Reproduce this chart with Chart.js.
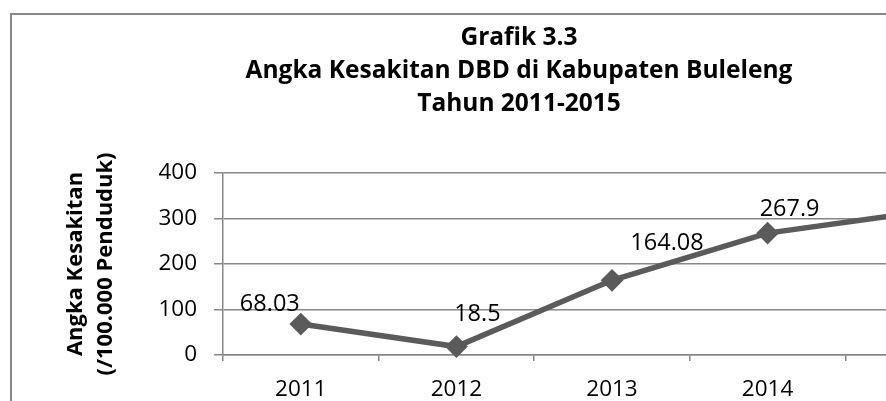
<!DOCTYPE html>
<html>
<head>
<meta charset="utf-8">
<script src="https://cdn.jsdelivr.net/npm/chart.js@4/dist/chart.umd.min.js"></script>
<style>
  html, body { margin: 0; padding: 0; background: #fff; overflow: hidden; }
  #frame {
    position: absolute;
    left: 10px;
    top: 13px;
    width: 1014px;
    height: 400px;
    border: 2px solid #888;
  }
  canvas { display: block; }
</style>
</head>
<body>
<div id="frame"><canvas id="chart" width="1014" height="400"></canvas></div>
<script>
const years = ["2011", "2012", "2013", "2014", "2015"];
const angkaKesakitan = [68.03, 18.5, 164.08, 267.9, 315.2];
const yTicks = [0, 100, 200, 300, 400];

// label positions relative to the marker (moved by hand in the original)
const labelOffsets = [[-31, -20], [21, -32], [55, -37], [22, -24], [22, -24]];

const fontFamily = "'Open Sans', sans-serif";
const gridGray = "#878787";

const dataLabels = {
  id: "dataLabels",
  afterDatasetsDraw(chart) {
    const ctx = chart.ctx;
    const meta = chart.getDatasetMeta(0);
    ctx.save();
    ctx.font = "23.5px " + fontFamily;
    ctx.fillStyle = "#000";
    ctx.textAlign = "center";
    ctx.textBaseline = "middle";
    meta.data.forEach(function (pt, i) {
      const off = labelOffsets[i];
      ctx.fillText(String(angkaKesakitan[i]), pt.x + off[0], pt.y + off[1]);
    });
    ctx.restore();
  },
};

new Chart(document.getElementById("chart"), {
  type: "line",
  data: {
    labels: years,
    datasets: [
      {
        data: angkaKesakitan,
        borderColor: "#5b5b5b",
        borderWidth: 5.5,
        pointStyle: "rectRot",
        pointRadius: 10,
        pointBorderWidth: 2,
        pointBackgroundColor: "#5b5b5b",
        pointBorderColor: "#5b5b5b",
        tension: 0,
        clip: false,
      },
    ],
  },
  options: {
    responsive: false,
    devicePixelRatio: 1,
    animation: false,
    layout: { padding: { left: 25, right: 25, top: 0, bottom: 0 } },
    plugins: {
      legend: { display: false },
      tooltip: { enabled: false },
      title: {
        display: true,
        text: ["Grafik 3.3", "Angka Kesakitan DBD di Kabupaten Buleleng", "Tahun 2011-2015"],
        color: "#000",
        font: { family: fontFamily, size: 24.5, weight: "bold", lineHeight: 33 / 24.5 },
        padding: { top: 6.5, bottom: 52.5 },
      },
    },
    scales: {
      x: {
        offset: true,
        grid: {
          offset: true,
          drawOnChartArea: false,
          drawTicks: true,
          tickLength: 6,
          color: gridGray,
          lineWidth: 1.5,
        },
        border: { display: true, color: gridGray, width: 1.5 },
        ticks: {
          color: "#000",
          font: { family: fontFamily, size: 22.5 },
          padding: 15,
          maxRotation: 0,
        },
        afterFit(scale) {
          scale.height = 60;
        },
      },
      y: {
        min: 0,
        max: 400,
        afterBuildTicks(scale) {
          scale.ticks = yTicks.map(function (v) { return { value: v }; });
        },
        grid: {
          color: gridGray,
          lineWidth: 1.5,
          drawTicks: true,
          tickLength: 9,
        },
        border: { display: true, color: gridGray, width: 1.5 },
        ticks: {
          color: "#000",
          font: { family: fontFamily, size: 22.5 },
          padding: 17,
        },
        title: {
          display: true,
          text: ["Angka Kesakitan", "(/100.000 Penduduk)"],
          color: "#000",
          font: { family: fontFamily, size: 22, weight: "bold", lineHeight: 30 / 22 },
          padding: { top: 24, bottom: 0 },
        },
        afterFit(scale) {
          scale.width = 186;
        },
      },
    },
  },
  plugins: [dataLabels],
});
</script>
</body>
</html>
